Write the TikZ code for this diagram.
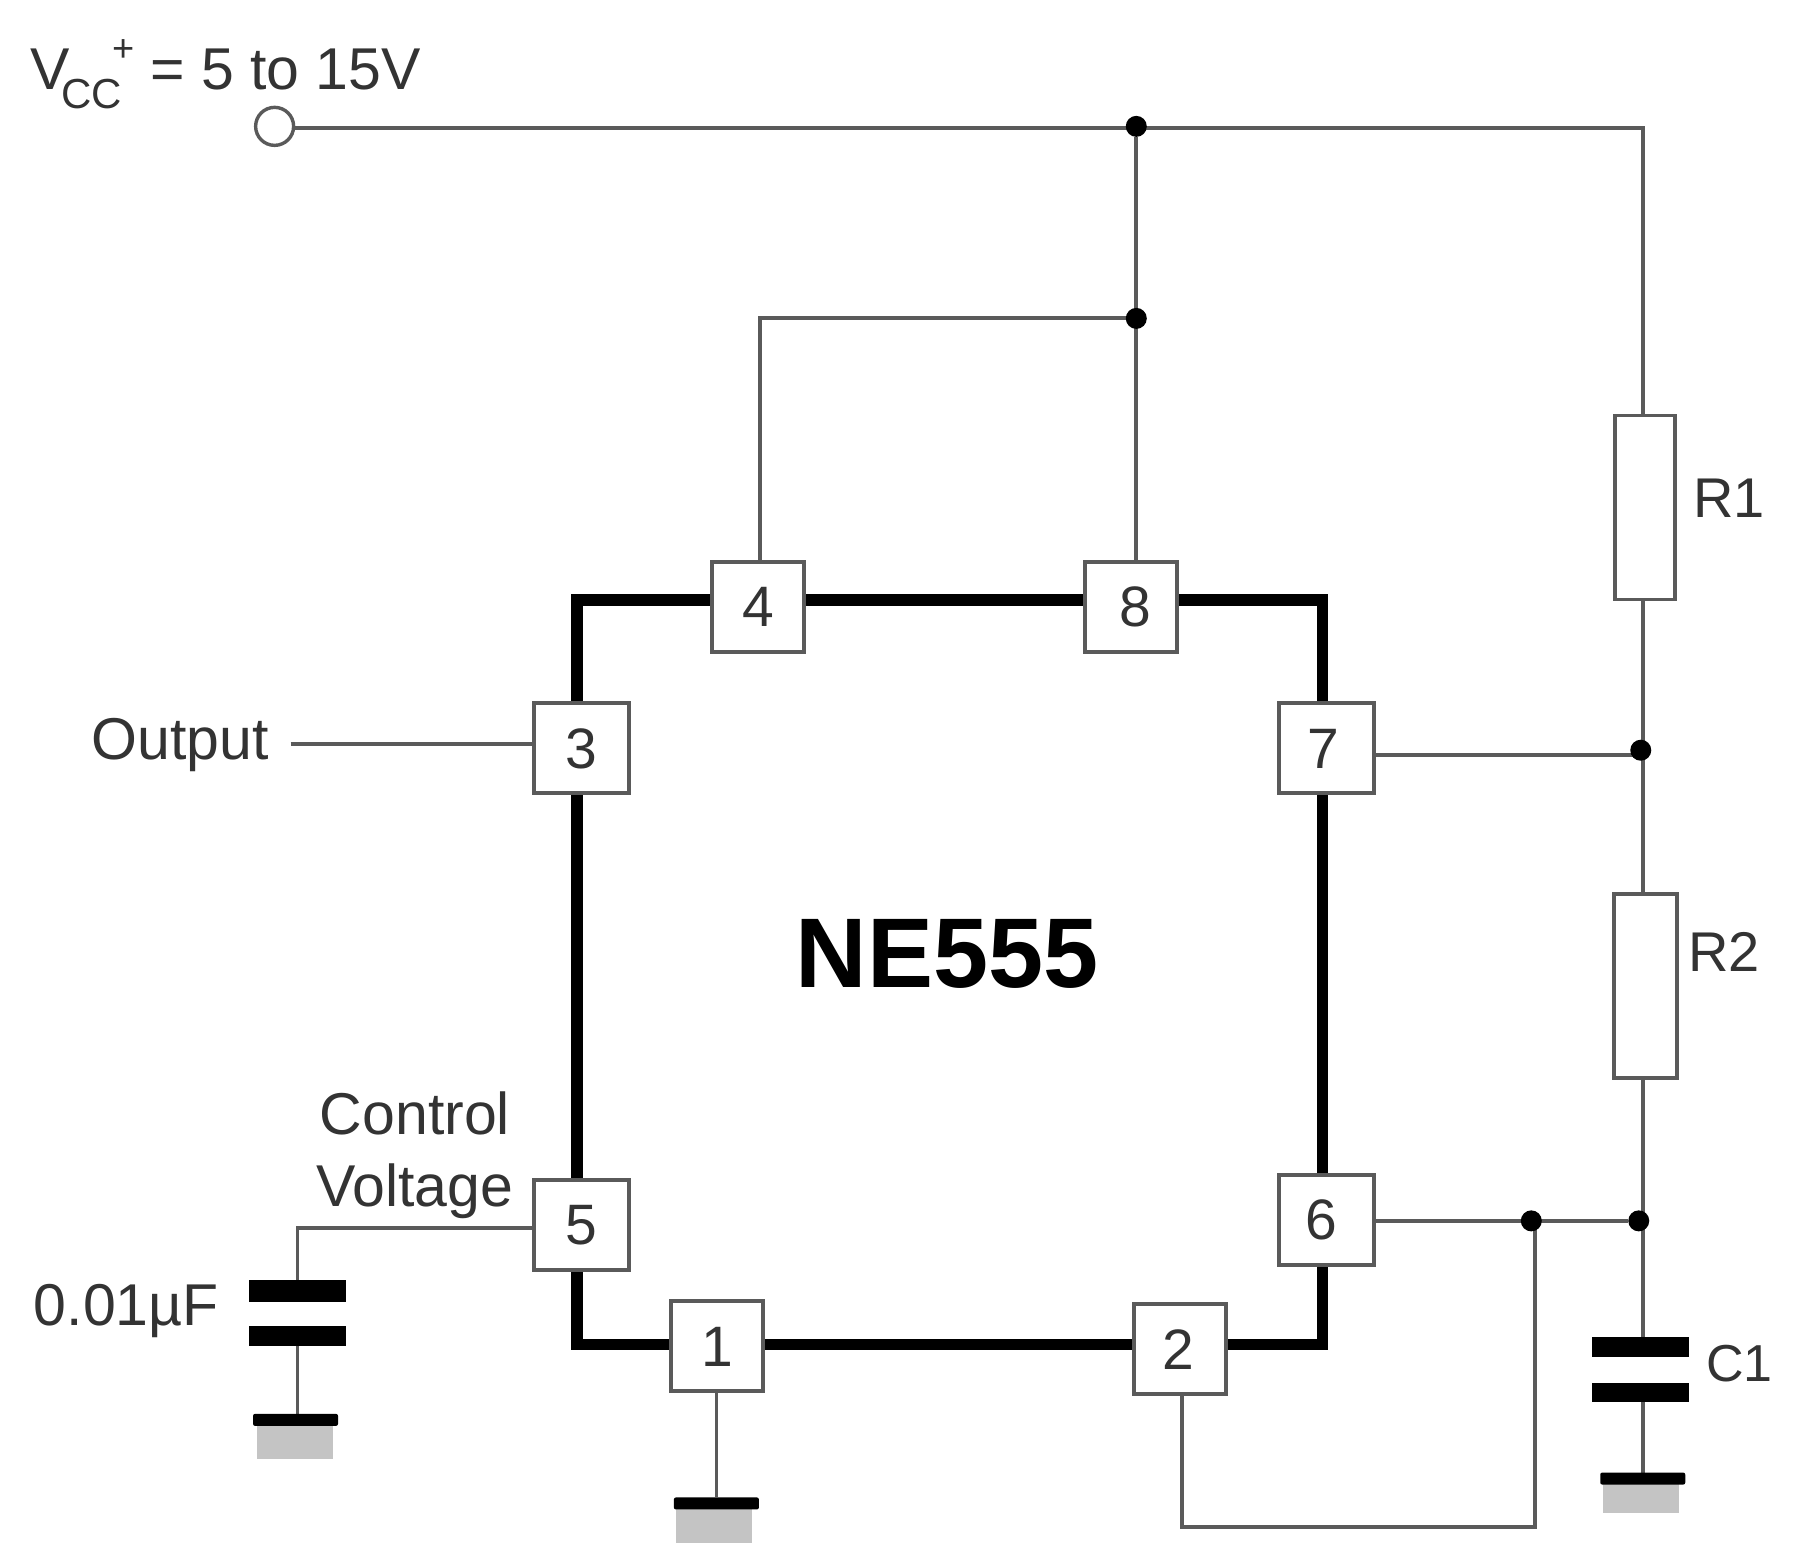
\documentclass[tikz,border=0pt]{standalone}
\usepackage{fontspec}
\setmainfont{Liberation Sans}
\definecolor{ink}{HTML}{333333}
\definecolor{wire}{HTML}{5A5A5A}
\definecolor{earth}{HTML}{C4C4C4}
\newcommand{\fs}[1]{\fontsize{#1}{#1}\selectfont}
\pgfdeclarelayer{wirelayer}
\pgfsetlayers{wirelayer,main}
\tikzset{
  wireline/.style={draw=wire,line width=3.8pt},
  thickbody/.style={draw=black,line width=11.5pt,line join=miter},
  pinbox/.style={draw=wire,fill=white,line width=4pt,minimum height=90pt,inner sep=0pt,text=ink,font=\fs{57},text height=40pt,text depth=0pt},
  lbl/.style={text=ink,font=\fs{59},inner sep=0pt},
  dotj/.style={circle,fill=black,minimum size=21pt,inner sep=0pt},
  opencirc/.style={circle,draw=wire,fill=white,line width=3.4pt,minimum size=38pt,inner sep=0pt},
  resbox/.style={draw=wire,fill=white,line width=3.8pt,inner sep=0pt},
  plate/.style={fill=black,inner sep=0pt},
  gbar/.style={fill=black,inner sep=0pt,rounded corners=2pt},
  gshade/.style={fill=earth,inner sep=0pt}
}
\begin{document}
\begin{tikzpicture}[x=0.995pt,y=-0.995pt]
\useasboundingbox (0,0) rectangle (1805.03,1575.88);
\begin{pgfonlayer}{wirelayer}
\fill[white] (0,0) rectangle (1805.03,1575.88);
\end{pgfonlayer}
% IC body
\draw[thickbody] (580,603) rectangle (1329,1351);
% labels
\node[lbl,anchor=west] (vcc) at (30,75) {\fs{59}V\kern-8pt\raisebox{-19pt}{\fs{42}CC}\kern-10pt\raisebox{28pt}{\fs{38}+}\kern16pt= 5 to 15V};
\node[lbl] (out) at (181,749) {Output};
\node[lbl] (ctl) at (417,1119) {Control};
\node[lbl] (vlt) at (417,1197) {Voltage};
\node[lbl] (cval) at (127,1318) {0.01µF};
\node[lbl,font=\fs{56}] (r1l) at (1738,501) {R1};
\node[lbl,font=\fs{56}] (r2l) at (1733,957) {R2};
\node[lbl,font=\fs{52}] (c1l) at (1748,1370) {C1};
\node[text=black,font=\fs{99}\bfseries,inner sep=0pt] (ne) at (952,959) {NE555};
% pins
\node[pinbox,minimum width=92pt] (p4) at (762,610) {4};
\node[pinbox,minimum width=92pt] (p8) at (1137,610) {\kern8pt 8};
\node[pinbox,minimum width=95pt] (p3) at (584,752) {3};
\node[pinbox,minimum width=95pt] (p7) at (1333,752) {7\kern5pt};
\node[pinbox,minimum width=95pt] (p5) at (584,1231) {5};
\node[pinbox,minimum width=95pt] (p6) at (1333,1226) {6\kern10pt};
\node[pinbox,minimum width=92pt] (p1) at (721,1353) {1};
\node[pinbox,minimum width=92pt] (p2) at (1186,1356) {2\kern4pt};
% resistors
\node[resbox,minimum width=60pt,minimum height=184pt] (r1) at (1653,510) {};
\node[resbox,minimum width=63pt,minimum height=184pt] (r2) at (1654,991) {};
% terminals and junctions
\node[opencirc] (vin) at (276,127) {};
\node[dotj] (jt) at (1142,127) {};
\node[dotj] (j4) at (1142,320) {};
\node[dotj] (j7) at (1649,754) {};
\node[dotj] (j6) at (1647,1227) {};
\node[dotj] (j2) at (1539,1227) {};
% C1 and its ground
\node[plate,minimum width=97pt,minimum height=20pt] (c1a) at (1649,1354) {};
\node[plate,minimum width=97pt,minimum height=19pt] (c1b) at (1649,1399) {};
\node[gshade,minimum width=76pt,minimum height=34pt] (g3s) at (1649,1504) {};
\node[gbar,minimum width=85pt,minimum height=12pt] (g3) at (1651,1486) {};
% control capacitor and its ground
\node[plate,minimum width=97pt,minimum height=22pt] (c2a) at (299,1297) {};
\node[plate,minimum width=97pt,minimum height=20pt] (c2b) at (299,1343) {};
\node[gshade,minimum width=76pt,minimum height=34pt] (g2s) at (296,1449) {};
\node[gbar,minimum width=85pt,minimum height=12pt] (g2) at (297,1427) {};
% pin 1 ground
\node[gshade,minimum width=76pt,minimum height=36pt] (g1s) at (718,1533) {};
\node[gbar,minimum width=85pt,minimum height=12pt] (g1) at (720,1511) {};
% connector points
\coordinate (tr) at (1651,129);
\coordinate (c4) at (764,320);
\coordinate (c5) at (299,1234);
\coordinate (o1) at (292,748);
\coordinate (c7) at (1649,759);
\coordinate (b2) at (1188,1535);
\coordinate (b6) at (1543,1535);
% wires, under every shape
\begin{pgfonlayer}{wirelayer}
\draw[wireline] (vin.center |- tr) -- (tr) -- (tr |- c1a);
\draw[wireline] (jt) -- (jt |- p8);
\draw[wireline] (j4) -- (c4) -- (c4 |- p4);
\draw[wireline] (o1) -- (o1 -| p3);
\draw[wireline] (p7 |- c7) -- (c7);
\draw[wireline] (p6 |- j6) -- (j6);
\draw[wireline] (p5 |- c5) -- (c5) -- (c5 |- c2a);
\draw[wireline] (c5 |- c2b) -- (c5 |- g2);
\draw[wireline] (p1 -| g1) -- (g1);
\draw[wireline] (p2 -| b2) -- (b2) -- (b6) -- (b6 |- j2);
\draw[wireline] (tr |- c1b) -- (tr |- g3);
\end{pgfonlayer}
\end{tikzpicture}
\end{document}
